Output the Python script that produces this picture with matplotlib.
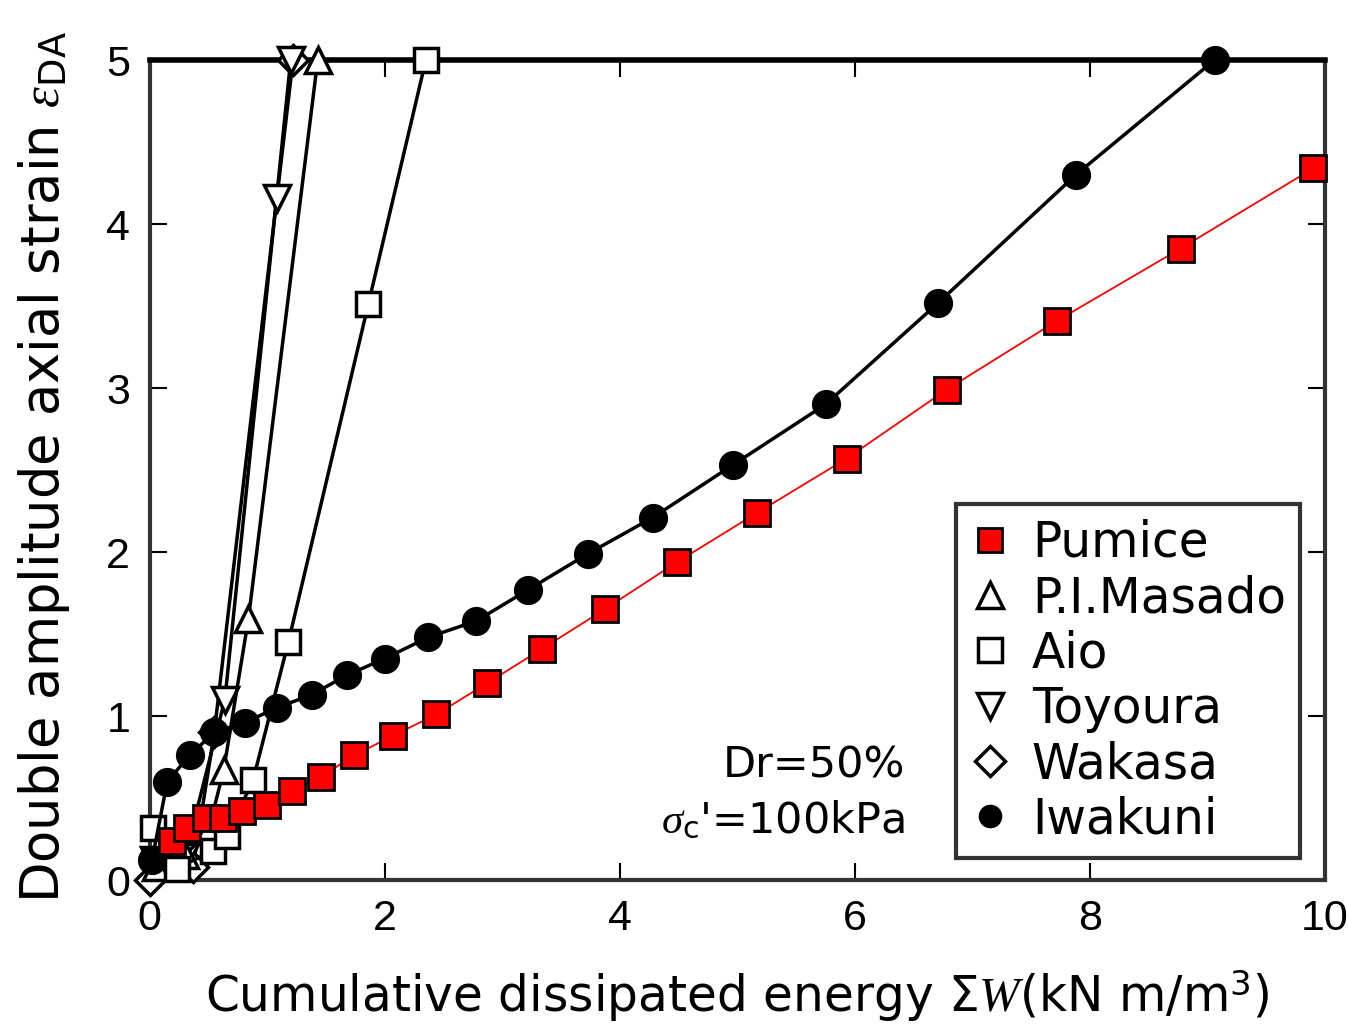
import matplotlib
matplotlib.use('Agg')
import matplotlib.pyplot as plt
from matplotlib.lines import Line2D

plt.rcParams['font.family'] = ['Liberation Sans', 'DejaVu Sans']
plt.rcParams['mathtext.fontset'] = 'custom'
plt.rcParams['mathtext.it'] = 'Liberation Serif:italic'
plt.rcParams['mathtext.rm'] = 'DejaVu Sans'

# data
pumice_x = [0.19, 0.32, 0.48, 0.62, 0.79, 1.00, 1.21, 1.46, 1.74, 2.07, 2.44, 2.87, 3.34,
            3.87, 4.49, 5.17, 5.93, 6.78, 7.72, 8.77, 9.90]
pumice_y = [0.24, 0.32, 0.38, 0.38, 0.42, 0.46, 0.54, 0.63, 0.76, 0.88, 1.01, 1.20, 1.41,
            1.65, 1.94, 2.24, 2.57, 2.99, 3.41, 3.85, 4.34]

masado_x = [0.05, 0.30, 0.50, 0.63, 0.84, 1.43]
masado_y = [0.08, 0.15, 0.30, 0.67, 1.59, 5.00]

aio_x = [0.03, 0.23, 0.54, 0.66, 0.88, 1.18, 1.86, 2.35]
aio_y = [0.32, 0.07, 0.18, 0.27, 0.61, 1.45, 3.51, 5.00]

toyoura_x = [0.04, 0.30, 0.64, 1.08, 1.20]
toyoura_y = [0.12, 0.14, 1.10, 4.16, 5.00]

wakasa_x = [0.00, 0.37, 0.55, 1.22]
wakasa_y = [0.00, 0.08, 0.90, 5.00]

iwakuni_x = [0.02, 0.15, 0.34, 0.55, 0.81, 1.08, 1.38, 1.68, 2.00, 2.37, 2.78, 3.22, 3.73,
             4.28, 4.96, 5.75, 6.71, 7.88, 9.06]
iwakuni_y = [0.12, 0.60, 0.76, 0.90, 0.96, 1.05, 1.13, 1.25, 1.35, 1.48, 1.58, 1.77, 1.99,
             2.21, 2.53, 2.90, 3.52, 4.30, 5.00]

xticks = [0, 2, 4, 6, 8, 10]
yticks = [0, 1, 2, 3, 4, 5]

fig = plt.figure(figsize=(13.48, 10.24), dpi=100)
ax = fig.add_axes([0.111, 0.1406, 0.872, 0.8008])

open_kw = dict(color='black', lw=2.5, mfc='white', mec='black', mew=2.5, clip_on=False)
ax.plot(wakasa_x, wakasa_y, marker='D', ms=15, zorder=3, **open_kw)
ax.plot(toyoura_x, toyoura_y, marker='v', ms=19, zorder=3, **open_kw)
ax.plot(masado_x, masado_y, marker='^', ms=19, zorder=3, **open_kw)
ax.plot(aio_x, aio_y, marker='s', ms=17, zorder=3, **open_kw)
ax.plot(iwakuni_x, iwakuni_y, marker='o', ms=20, color='black', lw=2.5,
        mfc='black', mec='black', zorder=4, clip_on=False)
ax.plot(pumice_x, pumice_y, marker='s', ms=19, color='red', lw=1.3,
        mfc='red', mec='black', mew=2, zorder=5, clip_on=False)

ax.set_xlim(0, 10)
ax.set_ylim(0, 5)
ax.set_xticks(xticks)
ax.set_yticks(yticks)
ax.tick_params(direction='in', length=12, width=1.5, top=True, right=True,
               labelsize=31, pad=14)
for s in ax.spines.values():
    s.set_linewidth(3)
    s.set_color('#333333')
ax.spines['top'].set_linewidth(4)
ax.spines['top'].set_color('black')

ax.text(6.43, 0.70, 'Dr=50%', fontsize=31, ha='right', va='center',
        family='DejaVu Sans')
ax.text(6.43, 0.36, r"$\sigma_{\rm c}$'=100kPa", fontsize=31, ha='right', va='center',
        family='DejaVu Sans')

fig.text(0.033, 0.544, r'Double amplitude axial strain $\varepsilon_{\rm DA}$',
         rotation=90, fontsize=38, ha='center', va='center', family='DejaVu Sans')
fig.text(0.547, 0.027, r'Cumulative dissipated energy $\Sigma W$(kN m/m$^3$)',
         fontsize=35, ha='center', va='center', family='DejaVu Sans')

handles = [
    Line2D([], [], ls='none', marker='s', ms=17, mfc='red', mec='black', mew=2),
    Line2D([], [], ls='none', marker='^', ms=19, mfc='white', mec='black', mew=2.5),
    Line2D([], [], ls='none', marker='s', ms=17, mfc='white', mec='black', mew=2.5),
    Line2D([], [], ls='none', marker='v', ms=19, mfc='white', mec='black', mew=2.5),
    Line2D([], [], ls='none', marker='D', ms=15, mfc='white', mec='black', mew=2.5),
    Line2D([], [], ls='none', marker='o', ms=16, mfc='black', mec='black'),
]
labels = ['Pumice', 'P.I.Masado', 'Aio', 'Toyoura', 'Wakasa', 'Iwakuni']
leg = ax.legend(handles, labels, loc='lower right', bbox_to_anchor=(0.979, 0.027),
                prop={'family': 'DejaVu Sans', 'size': 35}, frameon=True,
                fancybox=False, edgecolor='black',
                handlelength=0.8, handletextpad=0.45, labelspacing=0.15,
                borderpad=0.3, borderaxespad=0)
leg.get_frame().set_linewidth(3)

fig.savefig('out.png', dpi=100)
